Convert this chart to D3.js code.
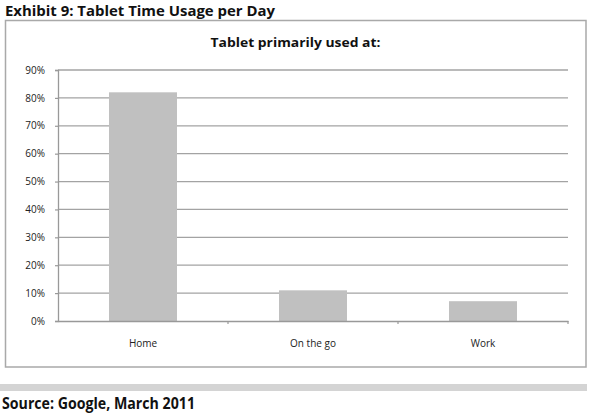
<!DOCTYPE html>
<html>
<head>
<meta charset="utf-8">
<script src="https://d3js.org/d3.v7.min.js"></script>
<style>
body{margin:0;background:#fff;}
</style>
</head>
<body>
<div id="chart"></div>
<script>
var categories=['Home','On the go','Work'];
var shares=[0.82,0.11,0.071];
var yTicks=[0,0.1,0.2,0.3,0.4,0.5,0.6,0.7,0.8,0.9];

var W=590,H=415,
	font='"Open Sans",Lato,"DejaVu Sans",sans-serif';

var svg=d3.select('#chart').append('svg')
	.attr('width',W).attr('height',H)
	.attr('font-family',font);

// exhibit title
svg.append('text').text('Exhibit 9: Tablet Time Usage per Day')
	.attr('x',5).attr('y',15.5)
	.attr('font-size',14.5).attr('font-weight','bold').attr('fill','#111')
	.attr('textLength',270).attr('lengthAdjust','spacingAndGlyphs');

// chart frame
svg.append('rect').attr('x',5.5).attr('y',20.5).attr('width',580.5).attr('height',346.5)
	.attr('fill','#fff').attr('stroke','#a9a9a9').attr('stroke-width',1.5);

svg.append('text').text('Tablet primarily used at:')
	.attr('x',295.5).attr('y',46.5).attr('text-anchor','middle')
	.attr('font-size',12).attr('font-weight','bold').attr('fill','#111')
	.attr('textLength',170).attr('lengthAdjust','spacingAndGlyphs');

var x=d3.scaleBand().domain(categories).range([58,568]).paddingInner(0.6).paddingOuter(0.3);
var xCat=d3.scaleBand().domain(categories).range([58,568]);
var y=d3.scaleLinear().domain([0,0.9]).range([321,70]);

// gridlines
svg.append('g').selectAll('line').data(yTicks.slice(1)).enter().append('line')
	.attr('x1',58).attr('x2',568)
	.attr('y1',function(d){return y(d)}).attr('y2',function(d){return y(d)})
	.attr('stroke','#a3a3a3').attr('stroke-width',1.3);

// bars
svg.append('g').selectAll('rect').data(shares).enter().append('rect')
	.attr('x',function(d,i){return x(categories[i])})
	.attr('width',x.bandwidth())
	.attr('y',function(d){return y(d)})
	.attr('height',function(d){return y(0)-y(d)})
	.attr('fill','#c0c0c0');

// y axis
var yAxis=svg.append('g').attr('transform','translate(58,0)')
	.call(d3.axisLeft(y).tickValues(yTicks).tickFormat(d3.format('.0%')).tickSize(3).tickPadding(10));
yAxis.select('.domain').attr('stroke','#999').attr('stroke-width',1.3);
yAxis.selectAll('.tick line').attr('stroke','#999').attr('stroke-width',1.2);
yAxis.selectAll('text').attr('font-size',10).attr('fill','#222').attr('font-family',font);

// x axis
var xAxis=svg.append('g').attr('transform','translate(0,'+y(0)+')')
	.call(d3.axisBottom(xCat).tickSize(0).tickPadding(19));
xAxis.select('.domain').attr('stroke','#999').attr('stroke-width',1.3);
xAxis.selectAll('text').attr('font-size',10).attr('fill','#222').attr('font-family',font);
svg.append('g').selectAll('line').data(categories).enter().append('line')
	.attr('x1',function(d){return xCat(d)+xCat.bandwidth()}).attr('x2',function(d){return xCat(d)+xCat.bandwidth()})
	.attr('y1',y(0)).attr('y2',y(0)+3)
	.attr('stroke','#999').attr('stroke-width',1.2);

// footer band and source
svg.append('rect').attr('x',0).attr('y',384).attr('width',587).attr('height',7).attr('fill','#d4d4d4');
svg.append('text').text('Source: Google, March 2011')
	.attr('x',2).attr('y',408.5)
	.attr('font-size',16).attr('font-weight','bold').attr('fill','#111')
	.attr('textLength',193).attr('lengthAdjust','spacingAndGlyphs');
</script>
</body>
</html>
